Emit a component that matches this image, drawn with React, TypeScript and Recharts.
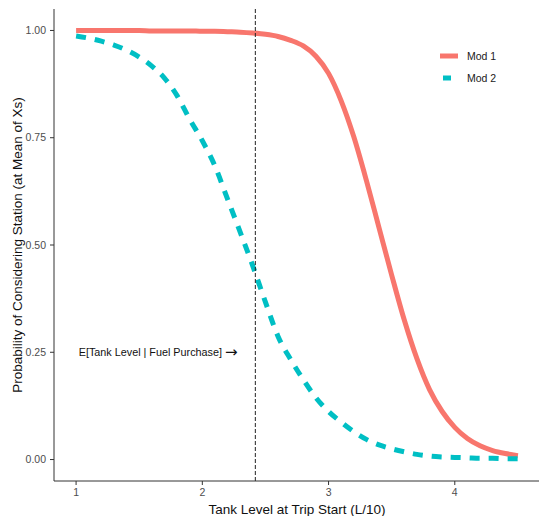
import React from 'react';
import {
  ComposedChart,
  Line,
  XAxis,
  YAxis,
  ReferenceLine,
  ReferenceDot,
  Legend,
} from 'recharts';

const tankLevel = [
  1.0, 1.1, 1.2, 1.3, 1.4, 1.5, 1.6, 1.7, 1.8, 1.9,
  2.0, 2.1, 2.2, 2.3, 2.4, 2.5, 2.6, 2.7, 2.8, 2.9,
  3.0, 3.1, 3.2, 3.3, 3.4, 3.5, 3.6, 3.7, 3.8, 3.9,
  4.0, 4.1, 4.2, 4.3, 4.4, 4.5,
];

const mod1 = [
  1.0, 1.0, 1.0, 1.0, 1.0, 1.0, 0.999, 0.999, 0.999, 0.999,
  0.998, 0.998, 0.997, 0.996, 0.994, 0.991, 0.986, 0.977, 0.964, 0.94,
  0.9, 0.836, 0.752, 0.65, 0.54, 0.43, 0.325, 0.235, 0.163, 0.112,
  0.075, 0.049, 0.032, 0.021, 0.014, 0.009,
];

const mod2 = [
  0.987, 0.982, 0.975, 0.966, 0.954, 0.938, 0.917, 0.889, 0.848, 0.793,
  0.743, 0.684, 0.607, 0.53, 0.451, 0.367, 0.287, 0.233, 0.186, 0.144,
  0.112, 0.087, 0.065, 0.047, 0.034, 0.025, 0.018, 0.012, 0.008, 0.006,
  0.005, 0.004, 0.003, 0.003, 0.002, 0.002,
];

const seriesNames = ['Mod 1', 'Mod 2'];
const seriesColors = ['#F8766D', '#00BFC4'];
const xTicks = [1, 2, 3, 4];
const yTicks = [0, 0.25, 0.5, 0.75, 1];
const expectedTankLevel = 2.42;
const annotationText = 'E[Tank Level | Fuel Purchase] ';
const annotationArrow = '\u2192';
const annotationX = 1.65;
const annotationY = 0.25;
const xTitle = 'Tank Level at Trip Start (L/10)';
const yTitle = 'Probability of Considering Station (at Mean of Xs)';

const data = tankLevel.map((x, i) => ({ x, mod1: mod1[i], mod2: mod2[i] }));

const FONT = "'Liberation Sans', Arial, Helvetica, sans-serif";

const renderLegend = () => (
  <div style={{ fontSize: 10.5, color: '#1a1a1a', fontFamily: FONT }}>
    {seriesNames.map((n, i) => (
      <div key={n} style={{ display: 'flex', alignItems: 'center', height: 22 }}>
        <svg width={18} height={10} style={{ display: 'block' }}>
          <line
            x1={i === 0 ? 0 : 3}
            x2={i === 0 ? 18 : 11}
            y1={5}
            y2={5}
            stroke={seriesColors[i]}
            strokeWidth={5}
          />
        </svg>
        <span style={{ marginLeft: 9 }}>{n}</span>
      </div>
    ))}
  </div>
);

const AnnotationShape = (props: any) => (
  <text
    x={props.cx}
    y={props.cy}
    textAnchor="middle"
    dominantBaseline="central"
    fontSize={10.8}
    fill="#111"
    fontFamily={FONT}
  >
    {annotationText}
    <tspan fontSize={15} fontFamily="'DejaVu Sans', sans-serif">
      {annotationArrow}
    </tspan>
  </text>
);

export default function App() {
  return (
    <div
      style={{
        position: 'absolute',
        left: 0,
        top: 0,
        width: 539,
        height: 516,
        overflow: 'hidden',
        background: '#fff',
        fontFamily: FONT,
      }}
    >
      <ComposedChart
        width={540}
        height={516}
        data={data}
        margin={{ top: 9, right: 0, bottom: 0, left: 0 }}
      >
        <XAxis
          dataKey="x"
          type="number"
          domain={[0.825, 4.675]}
          ticks={xTicks}
          allowDataOverflow
          height={35}
          tickSize={4}
          tickMargin={4}
          axisLine={{ stroke: '#333', strokeWidth: 1 }}
          tickLine={{ stroke: '#333' }}
          tick={{ fill: '#4D4D4D', fontSize: 10.5, fontFamily: FONT }}
          label={{
            value: xTitle,
            position: 'insideBottom',
            offset: 2,
            style: { fill: '#111', fontSize: 13.5, fontFamily: FONT },
          }}
        />
        <YAxis
          type="number"
          domain={[-0.05, 1.05]}
          ticks={yTicks}
          allowDataOverflow
          width={54}
          tickSize={4}
          tickMargin={4}
          tickFormatter={(v: number) => v.toFixed(2)}
          axisLine={{ stroke: '#333', strokeWidth: 1 }}
          tickLine={{ stroke: '#333' }}
          tick={{ fill: '#4D4D4D', fontSize: 10.5, fontFamily: FONT }}
          label={{
            value: yTitle,
            angle: -90,
            position: 'insideLeft',
            offset: 17,
            style: { textAnchor: 'middle', fill: '#111', fontSize: 13.5, fontFamily: FONT },
          }}
        />
        <Legend
          layout="horizontal"
          verticalAlign="middle"
          align="center"
          content={renderLegend}
          wrapperStyle={{ left: 440, top: 45, width: 'auto' }}
        />
        <Line
          dataKey="mod1"
          name={seriesNames[0]}
          type="monotone"
          stroke={seriesColors[0]}
          strokeWidth={5}
          dot={false}
          activeDot={false}
          isAnimationActive={false}
        />
        <Line
          dataKey="mod2"
          name={seriesNames[1]}
          type="monotone"
          stroke={seriesColors[1]}
          strokeWidth={5}
          strokeDasharray="10 9"
          dot={false}
          activeDot={false}
          isAnimationActive={false}
        />
        <ReferenceLine
          x={expectedTankLevel}
          stroke="#222"
          strokeWidth={1}
          strokeDasharray="4 2"
        />
        <ReferenceDot
          x={annotationX}
          y={annotationY}
          r={0}
          shape={AnnotationShape}
        />
      </ComposedChart>
    </div>
  );
}
